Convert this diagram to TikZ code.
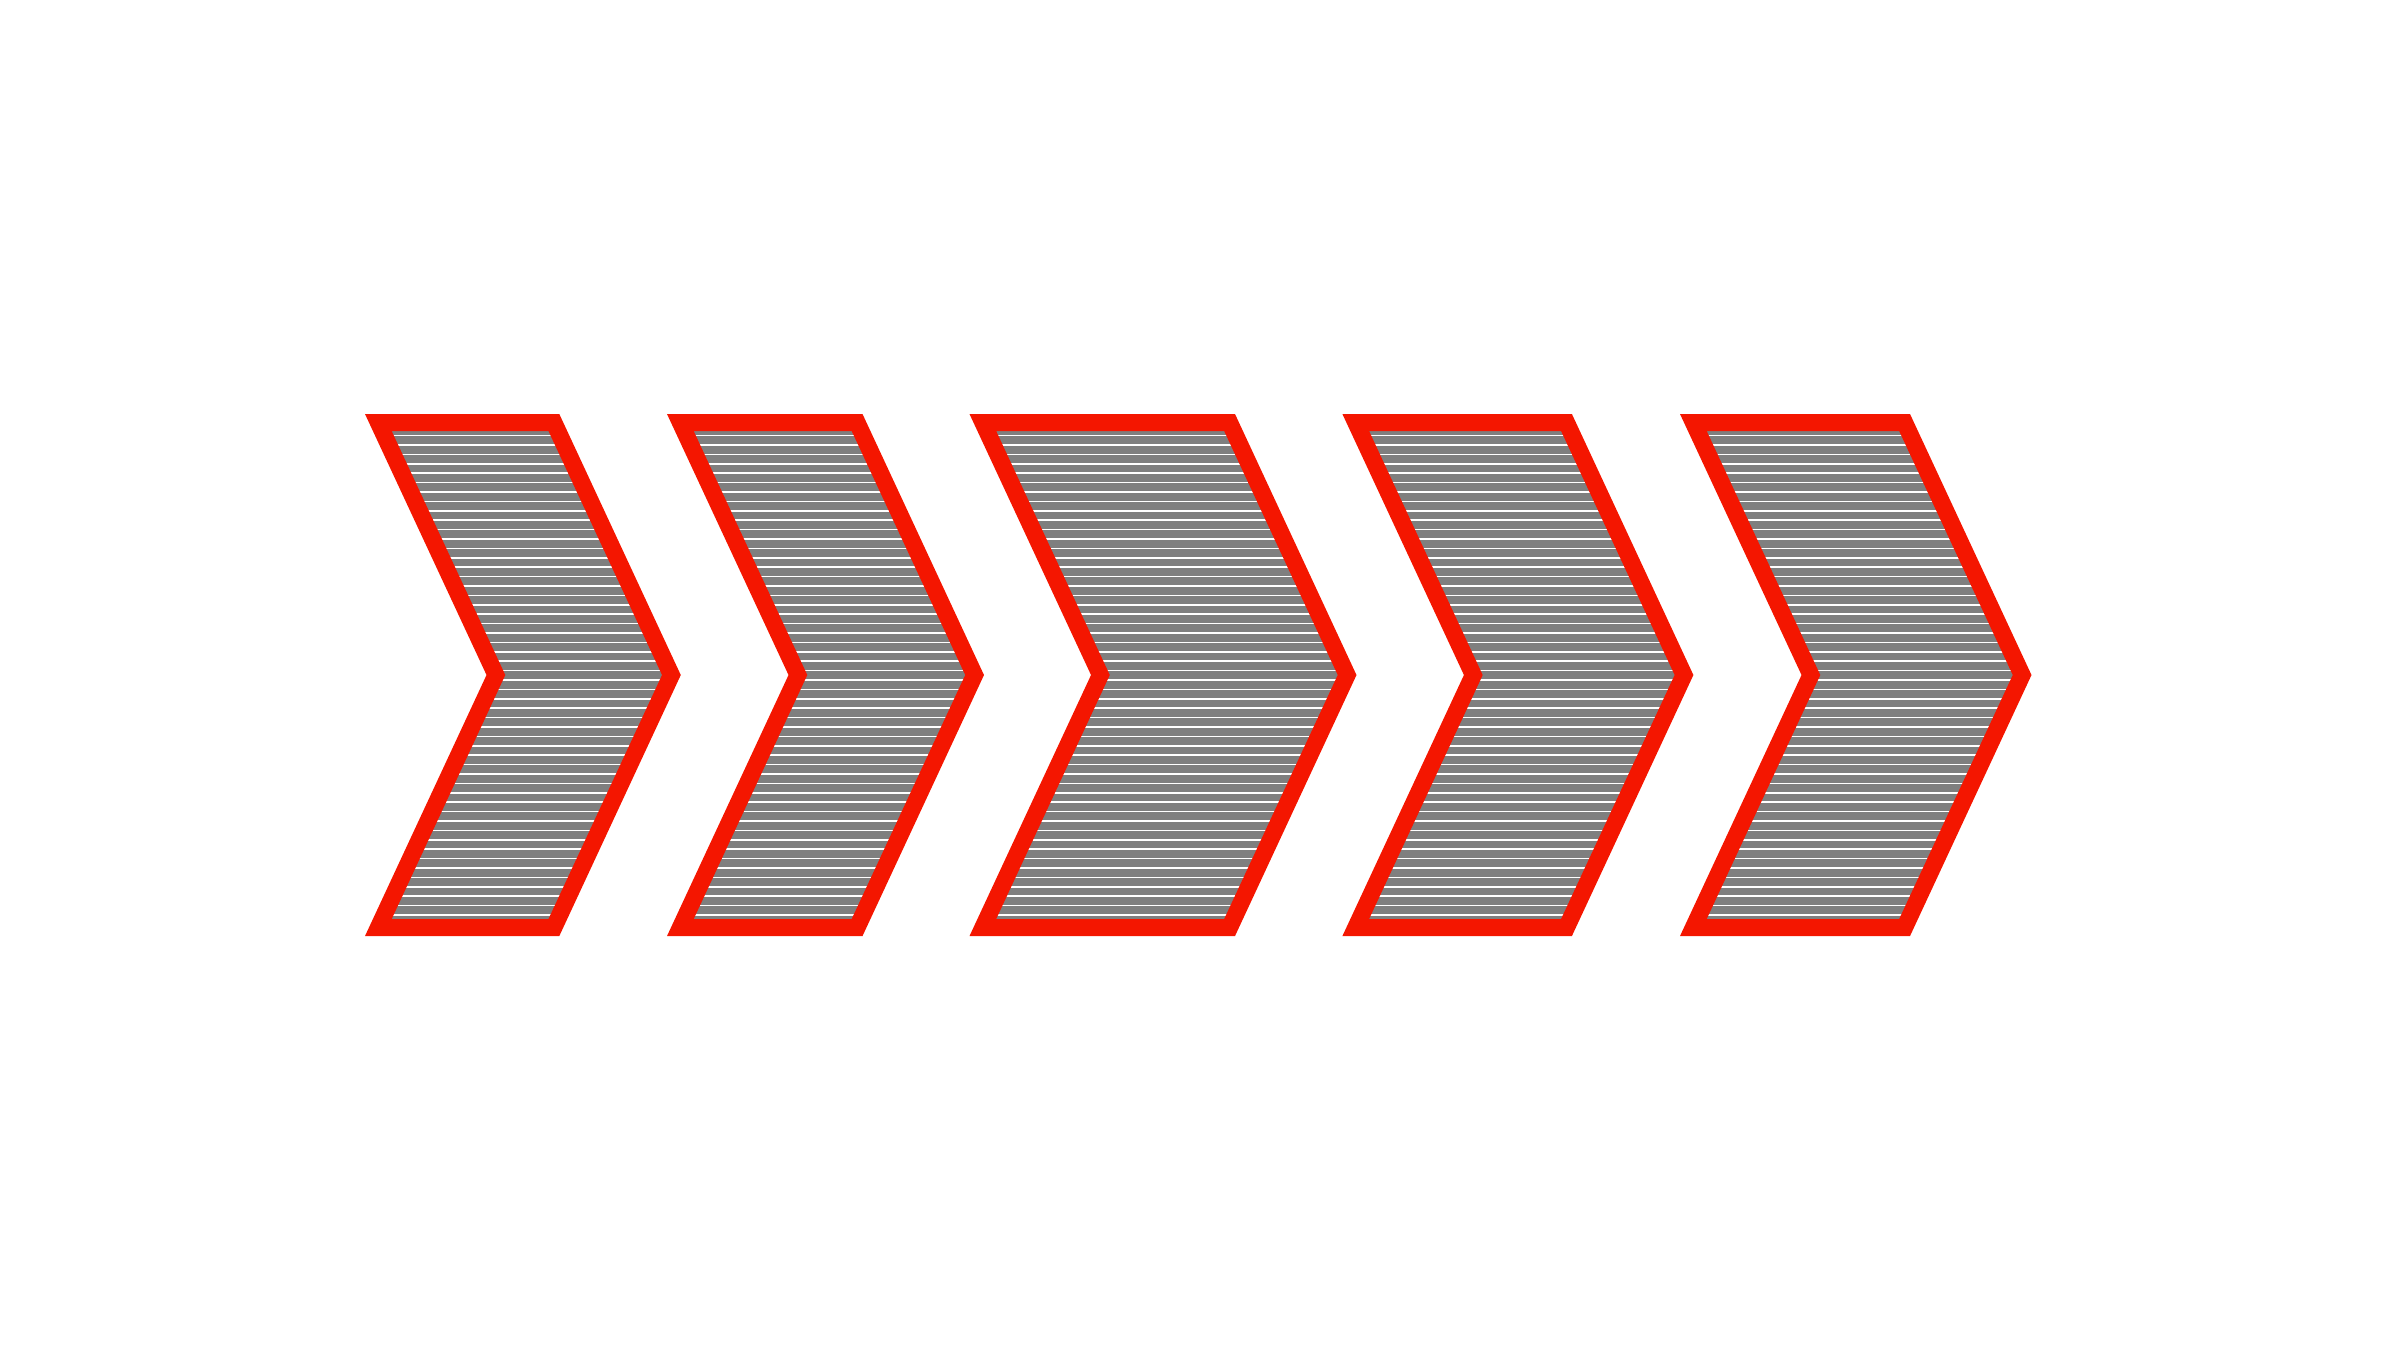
\documentclass[tikz,border=0pt]{standalone}
\definecolor{chevred}{RGB}{244,22,0}
\definecolor{chevgray}{RGB}{127,127,127}
\newcommand\chevshape[2]{(#1+13.34,422.5) -- (#1+#2-5.42,422.5) -- (#1+#2+112.1,675) -- (#1+#2-5.42,927.5) -- (#1+13.34,927.5) -- (#1+130.9,675) -- cycle}
\tikzset{
  chevborder/.style={draw=chevred,line width=0.17cm,line join=miter},
  chevfill/.style={fill=chevgray},
  chevstripe/.style={draw=white,line width=0.016cm}
}
\begin{document}
\begin{tikzpicture}[x=0.01cm,y=-0.01cm]
\useasboundingbox (0,0) rectangle (2400,1350);
\foreach \X/\W in {365/194.3,667/195.5,969.5/265.5,1342.4/229.5,1680/230}{
  \path[chevfill] \chevshape{\X}{\W};
  \begin{scope}
    \clip \chevshape{\X}{\W};
    \foreach \i in {0,...,51}{
      \draw[chevstripe] (\X,435.5+9.4*\i) -- (\X+\W+140,435.5+9.4*\i);
    }
  \end{scope}
  \draw[chevborder] \chevshape{\X}{\W};
}
\end{tikzpicture}
\end{document}
